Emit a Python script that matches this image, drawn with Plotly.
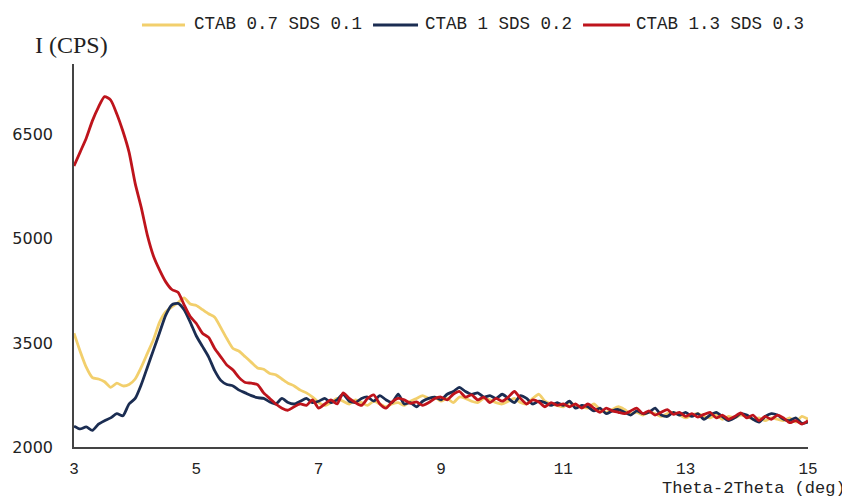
import plotly.graph_objects as go

theta = [round(3 + 0.1 * i, 1) for i in range(121)]

names = ["CTAB 0.7 SDS 0.1", "CTAB 1 SDS 0.2", "CTAB 1.3 SDS 0.3"]

yellow = [3640, 3380, 3150, 3000, 2980, 2940, 2860, 2920, 2880, 2900,
          2980, 3150, 3350, 3550, 3800, 3950, 4020, 4080, 4150, 4060,
          4040, 3980, 3920, 3870, 3720, 3560, 3420, 3380, 3300, 3220,
          3140, 3120, 3060, 3040, 2980, 2920, 2880, 2820, 2780, 2720,
          2640, 2600, 2640, 2700, 2660, 2620, 2680, 2640, 2600, 2660,
          2620, 2580, 2620, 2640, 2600, 2660, 2700, 2740, 2700, 2720,
          2660, 2700, 2640, 2720, 2700, 2660, 2640, 2700, 2680, 2640,
          2620, 2660, 2700, 2640, 2620, 2700, 2760, 2660, 2620, 2600,
          2580, 2640, 2600, 2580, 2560, 2620, 2540, 2500, 2540, 2580,
          2540, 2480, 2500, 2460, 2500, 2480, 2440, 2480, 2500, 2460,
          2420, 2460, 2480, 2440, 2420, 2460, 2400, 2440, 2420, 2460,
          2440, 2400, 2420, 2380, 2420, 2400, 2380, 2420, 2360, 2440,
          2400]

blue = [2300, 2260, 2290, 2240, 2330, 2380, 2420, 2480, 2450, 2620,
        2700, 2900, 3150, 3400, 3650, 3900, 4050, 4070, 3980, 3800,
        3600, 3450, 3300, 3100, 2960, 2900, 2880, 2820, 2780, 2740,
        2710, 2700, 2650, 2620, 2700, 2640, 2620, 2660, 2700, 2640,
        2660, 2700, 2640, 2680, 2760, 2660, 2640, 2700, 2720, 2660,
        2740, 2680, 2640, 2760, 2620, 2640, 2580, 2660, 2700, 2720,
        2680, 2760, 2800, 2860, 2800, 2760, 2780, 2720, 2740, 2700,
        2760, 2700, 2640, 2740, 2700, 2620, 2660, 2640, 2600, 2640,
        2600, 2660, 2560, 2600, 2580, 2520, 2560, 2480, 2520, 2540,
        2500, 2460, 2520, 2480, 2500, 2560, 2460, 2440, 2500, 2460,
        2500, 2440, 2480, 2400, 2460, 2500, 2440, 2380, 2420, 2480,
        2460, 2400, 2360, 2440, 2480, 2460, 2400, 2380, 2420, 2340,
        2360]

red = [6050, 6250, 6450, 6700, 6900, 7050, 7000, 6800, 6550, 6250,
       5800, 5450, 5050, 4750, 4550, 4380, 4270, 4230, 4050, 3880,
       3780, 3640, 3580, 3420, 3300, 3180, 3110, 3000, 2930, 2920,
       2900, 2780, 2700, 2620, 2560, 2530, 2580, 2620, 2600, 2680,
       2560, 2620, 2680, 2620, 2780, 2700, 2640, 2600, 2700, 2750,
       2620, 2560, 2650, 2700, 2680, 2630, 2650, 2600, 2640, 2700,
       2720, 2680, 2760, 2800, 2720, 2750, 2680, 2720, 2640, 2700,
       2660, 2720, 2800, 2700, 2620, 2680, 2650, 2580, 2640, 2600,
       2620, 2580, 2620, 2560, 2620, 2560, 2500, 2560, 2520, 2500,
       2480, 2520, 2560, 2480, 2520, 2460, 2500, 2540, 2470, 2500,
       2440, 2480, 2430, 2470, 2500, 2420, 2460, 2400, 2440, 2490,
       2420, 2460, 2380, 2440, 2400, 2460, 2420, 2350, 2380, 2330,
       2380]

colors = ["#F2CF6C", "#1B2D52", "#BE141C"]
x_ticks = [3, 5, 7, 9, 11, 13, 15]
y_ticks = [2000, 3500, 5000, 6500]

fig = go.Figure()
for name, ys, c in zip(names, [yellow, blue, red], colors):
    fig.add_trace(go.Scatter(x=theta, y=ys, name=name, mode="lines", showlegend=False,
                             line=dict(color=c, width=2.8, shape="spline", smoothing=0.6)))

# custom legend (line sample + label) above the plot
leg_lines = [(0.0926, 0.1512), (0.4074, 0.4687), (0.6935, 0.7575)]
leg_text_x = [0.1608, 0.4755, 0.7629]
shapes = []
annotations = []
for (x0, x1), tx, name, c in zip(leg_lines, leg_text_x, names, colors):
    shapes.append(dict(type="line", xref="paper", yref="paper", x0=x0, x1=x1,
                       y0=1.1018, y1=1.1018, line=dict(color=c, width=3)))
    annotations.append(dict(text=name, xref="paper", yref="paper", x=tx, y=1.1044,
                            xanchor="left", yanchor="middle", showarrow=False,
                            font=dict(family="Liberation Mono", size=17.5, color="#222")))

annotations += [
    dict(text="I (CPS)", xref="paper", yref="paper", x=-0.0559, y=1.0496,
         xanchor="left", yanchor="middle", showarrow=False,
         font=dict(family="Liberation Serif", size=24, color="#222")),
    dict(text="Theta-2Theta (deg)", xref="paper", yref="paper", x=1.0545, y=-0.108,
         xanchor="right", yanchor="middle", showarrow=False,
         font=dict(family="Liberation Mono", size=17, color="#222")),
]

fig.update_layout(
    width=842, height=492,
    margin=dict(l=66, r=42, t=56, b=53, autoexpand=False),
    paper_bgcolor="white", plot_bgcolor="white",
    showlegend=False,
    xaxis=dict(range=[3, 15], tickvals=x_ticks, ticktext=[str(v) for v in x_ticks],
               showgrid=False, zeroline=False, showline=True, linecolor="#444", linewidth=1.5,
               ticks="", ticklabelstandoff=6,
               tickfont=dict(family="Liberation Mono", size=16, color="#222")),
    yaxis=dict(range=[2000, 7520], tickvals=y_ticks, ticktext=[str(v) for v in y_ticks],
               showgrid=False, zeroline=False, showline=True, linecolor="#444", linewidth=1.5,
               ticks="outside", ticklen=16, tickcolor="rgba(0,0,0,0)",
               tickfont=dict(family="DejaVu Sans", size=16, color="#222")),
    shapes=shapes,
    annotations=annotations,
)

fig.write_html("out.html")
